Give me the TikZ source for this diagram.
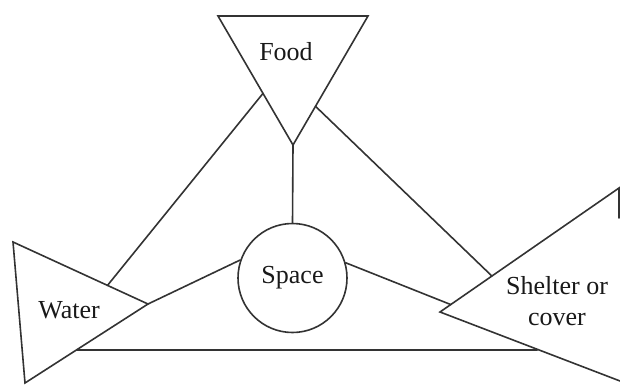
\documentclass[tikz,border=0pt]{standalone}
\usepackage{fontspec}
\setmainfont{Liberation Serif}
\usetikzlibrary{calc}
\begin{document}
\begin{tikzpicture}[x=1pt,y=-1pt,
  edge/.style={draw=black!80, line width=1.6pt, line join=miter, line cap=round},
  lbl/.style={font=\fontsize{26}{31}\selectfont, text=black!90, inner sep=0pt, align=center}]
\useasboundingbox (0,0) rectangle (620,385);
% Food triangle
\coordinate (f1) at (218,16);
\coordinate (f2) at (368,16);
\coordinate (f3) at (293,145);
\draw[edge] (f1) -- (f2) -- (f3) -- cycle;
\node[lbl, anchor=base] (foodtxt) at (286,61) {Food};
% Water triangle
\coordinate (w1) at (13,242);
\coordinate (w2) at (148,304);
\coordinate (w3) at (25,383);
\draw[edge] (w1) -- (w2) -- (w3) -- cycle;
\node[lbl, anchor=base] (watertxt) at (69,318) {Water};
% Shelter triangle (cut at the right edge)
\coordinate (s1) at (440,312);
\coordinate (s2) at (619,188);
\coordinate (s3) at (620,381);
\coordinate (s4) at (619,218);
\draw[edge] (s4) -- (s2) -- (s1) -- (s3);
\node[lbl, anchor=base] (sheltertxt) at (557,325) {Shelter or\\cover};
% Space circle
\node[circle, draw=black!80, line width=1.6pt, minimum size=109pt, inner sep=0pt,
      font=\fontsize{26}{31}\selectfont, text=black!90] (space) at (292.5,278) {Space};
% connection points
\coordinate (fL) at ($(f1)!0.6!(f3)$);
\coordinate (fR) at ($(f2)!0.7!(f3)$);
\coordinate (wT) at ($(w1)!0.7!(w2)$);
\coordinate (sT) at ($(s1)!0.29!(s2)$);
\coordinate (sA) at ($(s1)!0.06!(s2)$);
\coordinate (wB) at ($(w2)!0.58!(w3)$);
\coordinate (sB) at ($(s1)!0.54!(s3)$);
% connectors
\draw[edge] (f3) -- (space.north);
\draw[edge] (fL) -- (wT);
\draw[edge] (fR) -- (sT);
\draw[edge] (w2) -- (space.161);
\draw[edge] (space.16) -- (sA);
\draw[edge] (wB) -- (wB -| sB);
\end{tikzpicture}
\end{document}
